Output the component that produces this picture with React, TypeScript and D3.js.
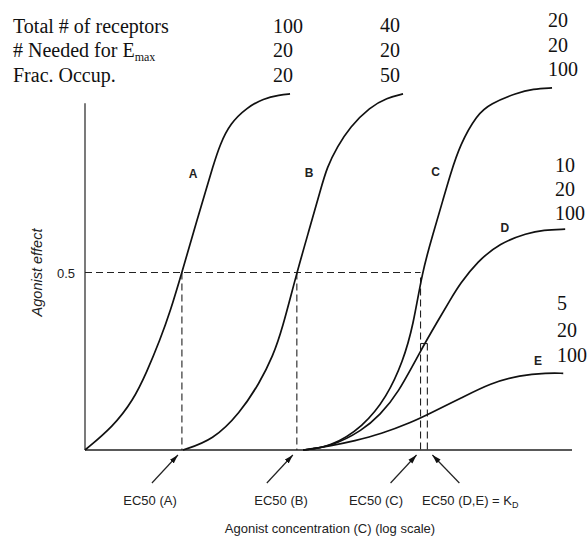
import React from "react";
import * as d3 from "d3";

// ---------- data (x: log agonist concentration units, y: fractional effect) ----------
const curveNames = ["A", "B", "C", "D", "E"];
const totalReceptors = [100, 40, 20, 10, 5];
const neededForEmax = [20, 20, 20, 20, 20];
const fracOccup = [20, 50, 100, 100, 100];
const headerRows = ["Total # of receptors", "# Needed for E", "Frac. Occup."];

const curveA: [number, number][] = [
  [0, 0], [0.57, 0.065], [0.99, 0.14], [1.27, 0.22], [1.54, 0.31], [1.75, 0.39],
  [1.99, 0.5], [2.22, 0.61], [2.5, 0.74], [2.63, 0.8], [2.77, 0.86], [2.98, 0.92],
  [3.33, 0.965], [3.66, 0.99], [4.0, 1.0], [4.21, 1.003],
];
const curveB: [number, number][] = [
  [2.01, 0], [2.63, 0.028], [3.18, 0.104], [3.59, 0.19], [3.86, 0.265], [4.05, 0.34],
  [4.35, 0.5], [4.62, 0.628], [4.83, 0.73], [4.97, 0.797], [5.18, 0.854], [5.44, 0.91],
  [5.85, 0.966], [6.2, 0.992], [6.53, 1.003],
];
const curveC: [number, number][] = [
  [4.48, 0], [5.03, 0.008], [5.71, 0.065], [6.2, 0.15], [6.53, 0.25], [6.74, 0.35],
  [6.92, 0.5], [7.15, 0.611], [7.35, 0.704], [7.5, 0.775], [7.7, 0.86],
  [8.05, 0.945], [8.32, 0.975], [8.87, 1.006], [9.2, 1.017], [9.59, 1.02],
];
const curveD: [number, number][] = [
  [4.48, 0], [5.03, 0.008], [5.71, 0.056], [6.06, 0.1], [6.41, 0.155], [6.92, 0.287],
  [7.23, 0.36], [7.5, 0.423], [7.7, 0.468], [8.05, 0.53], [8.52, 0.583], [9.08, 0.611],
  [9.41, 0.62], [9.86, 0.622],
];
const curveE: [number, number][] = [
  [4.48, 0], [5.03, 0.011], [5.54, 0.026], [6.06, 0.044], [6.74, 0.08], [7.04, 0.1],
  [7.76, 0.149], [8.32, 0.188], [8.93, 0.211], [9.49, 0.217], [9.82, 0.216],
];
const curves = [curveA, curveB, curveC, curveD, curveE];
const labelPoints: [number, number][] = [
  [2.22, 0.765], [4.6, 0.77], [7.2, 0.773], [8.62, 0.615], [9.3, 0.24],
];

const ec50Values = [1.99, 4.35, 6.89]; // A, B, C
const ec50DE = 7.03;
const kdLevel = 0.3;
const halfLevel = 0.5;
const ec50Labels = ["EC50 (A)", "EC50 (B)", "EC50 (C)"];
const yTicks = [0.5];

// ---------- layout ----------
const W = 588;
const H = 536;
const x = d3.scaleLinear().domain([0, 10]).range([85, 572]);
const y = d3.scaleLinear().domain([0, 1]).range([450, 95]);
const yAxisTop = 0.977;

const sans = "'Liberation Sans', Arial, sans-serif";
const serif = "'Liberation Serif', 'Times New Roman', serif";

const line = d3
  .line<[number, number]>()
  .x((d) => x(d[0]))
  .y((d) => y(d[1]))
  .curve(d3.curveBasis);

export default function App() {
  const dash = "7,4";
  const headerBaselines = [33, 57, 82];
  const colX = [273, 380, 548];
  const colBaselines = [
    [33, 57, 82],
    [32, 57, 82],
    [27, 52, 76],
  ];
  const sideCols = [
    { x: 555, base: [172, 196, 220] },
    { x: 557, base: [310, 337, 362] },
  ];
  const labelCenters = [150, 281, 376];
  return (
    <svg
      width={W}
      height={H}
      style={{ position: "absolute", left: 0, top: 0, background: "#fff" }}
    >
      <defs>
        <marker
          id="arr"
          viewBox="0 0 10 6"
          refX="10"
          refY="3"
          markerWidth="9"
          markerHeight="6"
          markerUnits="userSpaceOnUse"
          orient="auto"
        >
          <path d="M0,0 L10,3 L0,6 Z" fill="#111" />
        </marker>
      </defs>

      {/* header table */}
      {headerRows.map((t, i) => (
        <text key={t} x={13} y={headerBaselines[i]} fontFamily={serif} fontSize={20} fill="#111">
          {t}
          {i === 1 && (
            <tspan fontSize={12} dy={4}>
              max
            </tspan>
          )}
        </text>
      ))}
      {[0, 1, 2].map((c) =>
        [totalReceptors[c], neededForEmax[c], fracOccup[c]].map((v, r) => (
          <text key={`h${c}-${r}`} x={colX[c]} y={colBaselines[c][r]} fontFamily={serif} fontSize={20} fill="#111">
            {v}
          </text>
        ))
      )}
      {[3, 4].map((c, k) =>
        [totalReceptors[c], neededForEmax[c], fracOccup[c]].map((v, r) => (
          <text key={`s${c}-${r}`} x={sideCols[k].x} y={sideCols[k].base[r]} fontFamily={serif} fontSize={20} fill="#111">
            {v}
          </text>
        ))
      )}

      {/* axes */}
      <line x1={x(0)} x2={x(0)} y1={y(0)} y2={y(yAxisTop)} stroke="#333" strokeWidth={1.3} />
      <line x1={x(0)} x2={x(10)} y1={y(0)} y2={y(0)} stroke="#222" strokeWidth={1.4} />
      {yTicks.map((t) => (
        <text key={t} x={x(0) - 10} y={y(t) + 5} textAnchor="end" fontFamily={sans} fontSize={13} fill="#222">
          {t}
        </text>
      ))}
      <text
        transform={`translate(42,${y(0.5)}) rotate(-90)`}
        textAnchor="middle"
        fontFamily={sans}
        fontStyle="italic"
        fontSize={14.5}
        fill="#222"
      >
        Agonist effect
      </text>

      {/* dashed guides */}
      <line x1={x(0)} x2={x(ec50Values[2])} y1={y(halfLevel)} y2={y(halfLevel)} stroke="#222" strokeWidth={1.1} strokeDasharray={dash} />
      {ec50Values.map((v, i) => (
        <line key={i} x1={x(v)} x2={x(v)} y1={y(halfLevel) + (i === 2 ? 5 : 0)} y2={y(0)} stroke="#222" strokeWidth={1.1} strokeDasharray={dash} />
      ))}
      <line x1={x(ec50Values[2])} x2={x(ec50DE)} y1={y(kdLevel)} y2={y(kdLevel)} stroke="#222" strokeWidth={1.1} />
      <line x1={x(ec50DE)} x2={x(ec50DE)} y1={y(kdLevel)} y2={y(0)} stroke="#222" strokeWidth={1.1} strokeDasharray={dash} />

      {/* curves */}
      {curves.map((c, i) => (
        <path key={curveNames[i]} d={line(c) || ""} fill="none" stroke="#111" strokeWidth={1.7} />
      ))}
      {curveNames.map((n, i) => (
        <text key={n} x={x(labelPoints[i][0])} y={y(labelPoints[i][1])} textAnchor="middle" fontFamily={sans} fontWeight="bold" fontSize={12} fill="#222">
          {n}
        </text>
      ))}

      {/* arrows and EC50 labels */}
      {ec50Values.map((v, i) => (
        <line key={`a${i}`} x1={x(v) - 30} y1={y(0) + 33} x2={x(v) - 4} y2={y(0) + 5} stroke="#222" strokeWidth={1.2} markerEnd="url(#arr)" />
      ))}
      <line x1={x(ec50DE) + 32} y1={y(0) + 33} x2={x(ec50DE) + 5} y2={y(0) + 5} stroke="#222" strokeWidth={1.2} markerEnd="url(#arr)" />
      {ec50Labels.map((t, i) => (
        <text key={t} x={labelCenters[i]} y={505} textAnchor="middle" fontFamily={sans} fontSize={13} fill="#222">
          {t}
        </text>
      ))}
      <text x={422} y={505} fontFamily={sans} fontSize={13} fill="#222">
        EC50 (D,E) = K
        <tspan fontSize={9} dy={3}>
          D
        </tspan>
      </text>
      <text x={330} y={533} textAnchor="middle" fontFamily={sans} fontSize={13} fill="#222">
        Agonist concentration (C) (log scale)
      </text>
    </svg>
  );
}
